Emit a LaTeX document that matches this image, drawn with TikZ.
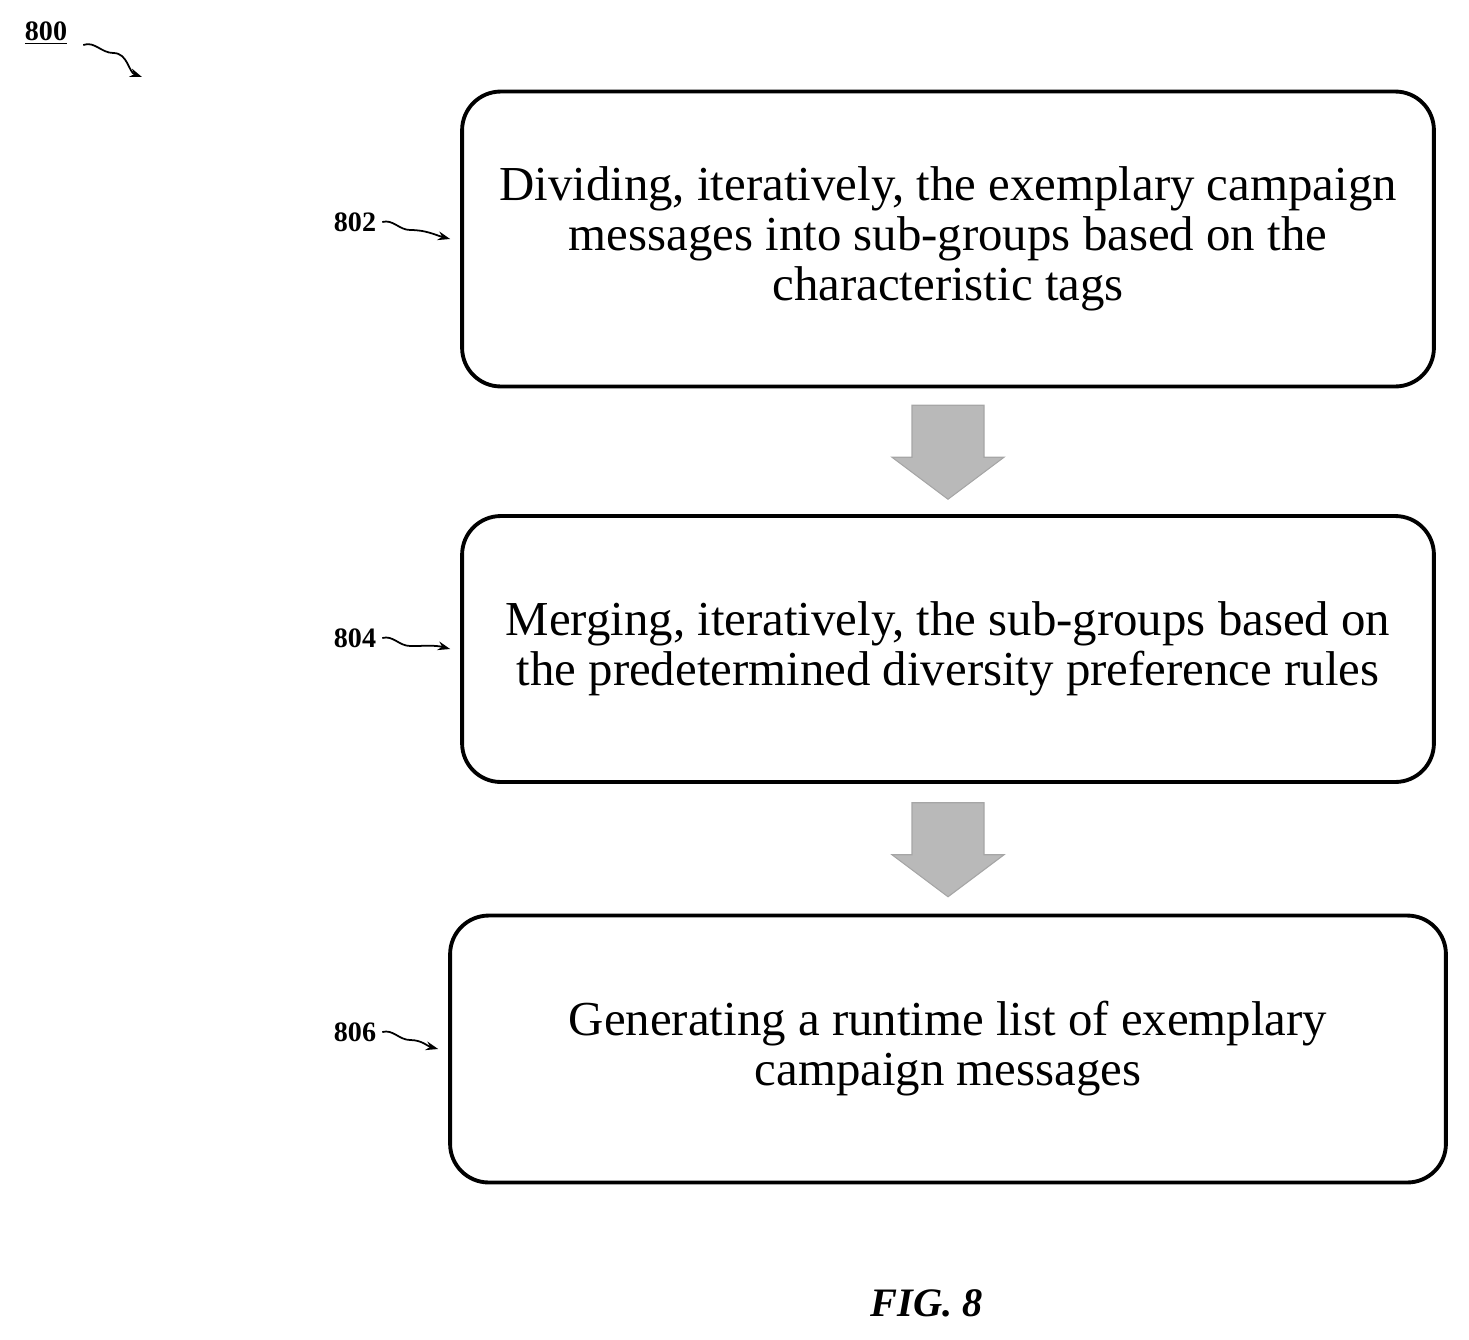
\documentclass[tikz,border=0pt]{standalone}
\usepackage{fontspec}
\setmainfont{Liberation Serif}
\usetikzlibrary{arrows.meta,positioning,calc}
\begin{document}
\begin{tikzpicture}[x=0.02cm,y=-0.02cm,
    stepbox/.style={draw,line width=2.2pt,rounded corners=22pt,align=center,
      font=\fontsize{27.8}{28.5}\selectfont},
    tag/.style={font=\fontsize{16}{18}\selectfont\bfseries},
    curl/.style={-{Stealth[length=7pt,width=5pt]},line width=1pt},
    bigarrow/.style={fill=gray!55,draw=gray!70,line width=0.6pt}
    ]
    \useasboundingbox (0,0) rectangle (1469,1339);

    \node (s802) [stepbox,minimum width=19.44cm,minimum height=5.9cm] at (948,239)
      {Dividing, iteratively, the exemplary campaign\\messages into sub-groups based on the\\characteristic tags};
    \node (s804) [stepbox,minimum width=19.44cm,minimum height=5.32cm] at (948,649)
      {Merging, iteratively, the sub-groups based on\\the predetermined diversity preference rules};
    \node (s806) [stepbox,minimum width=19.92cm,minimum height=5.34cm] at (948,1049)
      {Generating a runtime list of exemplary\\campaign messages};

    \node (l800) [tag] at (46,33) {\underline{800}};
    \node (l802) [tag] at (355,222) {802};
    \node (l804) [tag] at (355,638) {804};
    \node (l806) [tag] at (355,1032) {806};

    \coordinate (c800) at (142,77);
    \draw[curl] (l800.east) ++(10,12) to[out=20,in=180] ++(30,8) to[out=0,in=160] (c800);
    \foreach \n in {802,804,806}
      \draw[curl] (l\n.east) to[out=15,in=180] ++(28,8) to[out=0,in=165] ($(s\n.west)+(-10,0)$);

    % block arrows
    \foreach \a/\b in {s802/s804,s804/s806}
      \draw[bigarrow] ($(\a.south)!0.5!(\b.north)$) ++(-36,-46) -- ++(72,0) -- ++(0,52)
        -- ++(20,0) -- ++(-56,42) -- ++(-56,-42) -- ++(20,0) -- cycle;

    \node (fig) at (927,1303) {\fontsize{23}{26}\selectfont\bfseries\itshape FIG. 8};
\end{tikzpicture}
\end{document}
